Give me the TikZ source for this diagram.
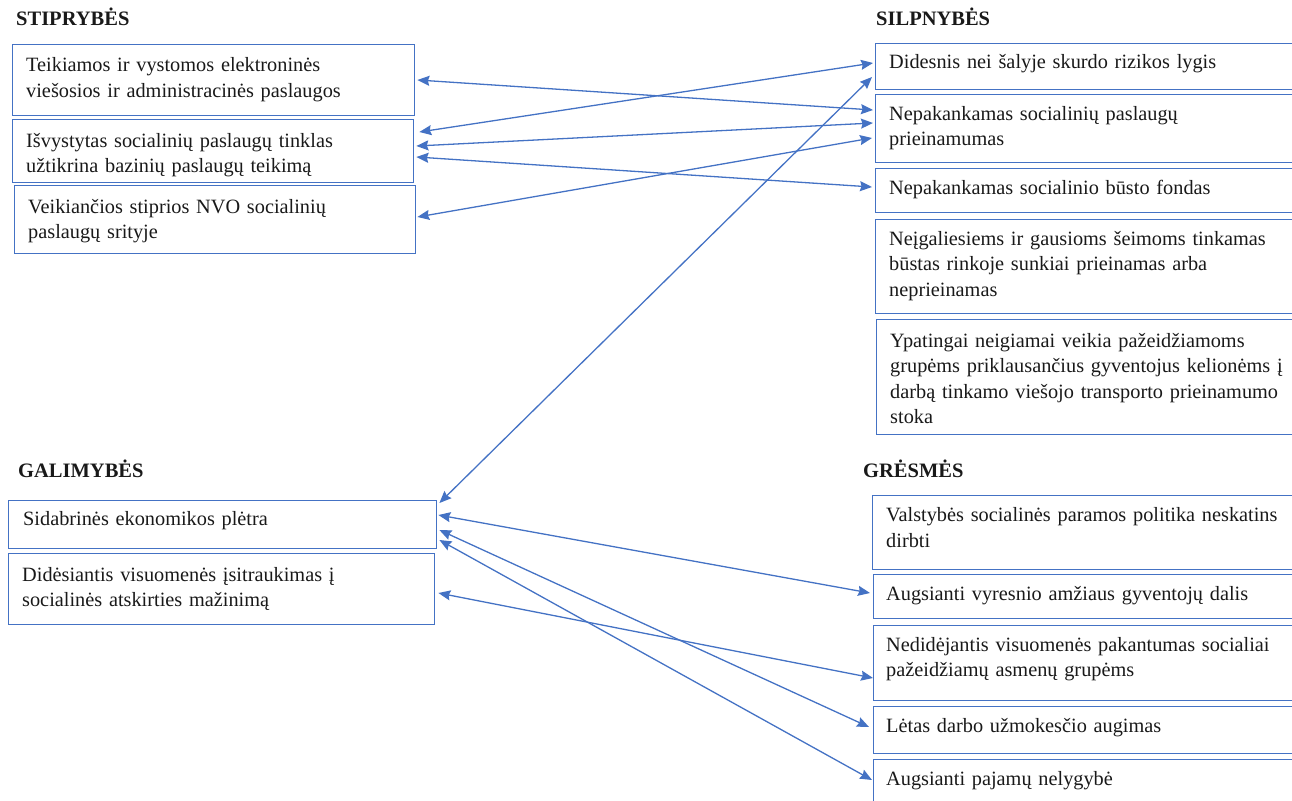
\documentclass[tikz,border=0pt]{standalone}
\usepackage{fontspec}
\setmainfont{Liberation Serif}
\usetikzlibrary{arrows.meta,calc}
\definecolor{bl}{HTML}{4472C4}
\begin{document}
\begin{tikzpicture}[x=1pt,y=-1pt,
  box/.style={draw=bl, line width=1.4pt, inner sep=0pt, anchor=north west},
  txt/.style={anchor=base west, inner sep=0pt, text width=440pt, align=left,
    font=\fontsize{20.3}{25.5}\selectfont, text=black!90},
  head/.style={anchor=base west, inner sep=0pt, font=\fontsize{20.5}{25.5}\selectfont\bfseries, text=black!90},
  tip/.tip={Stealth[length=12pt,width=10pt,inset=1.5pt]},
  link/.style={draw=bl, line width=1.3pt, tip-tip}]
\path[use as bounding box, clip] (0,0) rectangle (1292,800);

% headings
\node[head] (hS) at (16,26) {STIPRYBĖS};
\node[head] (hW) at (876,26) {SILPNYBĖS};
\node[head] (hO) at (18,477) {GALIMYBĖS};
\node[head] (hT) at (863,477) {GRĖSMĖS};

% strengths
\node[box, minimum width=402, minimum height=71] (s1) at (12,44) {};
\node[txt] (s1t) at ($(s1.north west)+(14,27.5)$) {Teikiamos ir vystomos elektroninės\\viešosios ir administracinės paslaugos};
\node[box, minimum width=401, minimum height=63] (s2) at (12,119) {};
\node[txt] (s2t) at ($(s2.north west)+(14,28)$) {Išvystytas socialinių paslaugų tinklas\\užtikrina bazinių paslaugų teikimą};
\node[box, minimum width=401, minimum height=68] (s3) at (14,185) {};
\node[txt] (s3t) at ($(s3.north west)+(14,28)$) {Veikiančios stiprios NVO socialinių\\paslaugų srityje};

% weaknesses
\node[box, minimum width=430, minimum height=46] (w1) at (875,43) {};
\node[txt] (w1t) at ($(w1.north west)+(14,25.5)$) {Didesnis nei šalyje skurdo rizikos lygis};
\node[box, minimum width=430, minimum height=68] (w2) at (875,94) {};
\node[txt] (w2t) at ($(w2.north west)+(14,26)$) {Nepakankamas socialinių paslaugų\\prieinamumas};
\node[box, minimum width=430, minimum height=44] (w3) at (875,168) {};
\node[txt] (w3t) at ($(w3.north west)+(14,26)$) {Nepakankamas socialinio būsto fondas};
\node[box, minimum width=430, minimum height=94] (w4) at (875,219) {};
\node[txt] (w4t) at ($(w4.north west)+(14,26)$) {Neįgaliesiems ir gausioms šeimoms tinkamas\\būstas rinkoje sunkiai prieinamas arba\\neprieinamas};
\node[box, minimum width=430, minimum height=115] (w5) at (876,319) {};
\node[txt] (w5t) at ($(w5.north west)+(14,28)$) {Ypatingai neigiamai veikia pažeidžiamoms\\grupėms priklausančius gyventojus kelionėms į\\darbą tinkamo viešojo transporto prieinamumo\\stoka};

% opportunities
\node[box, minimum width=428, minimum height=48] (o1) at (8,500) {};
\node[txt] (o1t) at ($(o1.north west)+(15,25)$) {Sidabrinės ekonomikos plėtra};
\node[box, minimum width=426, minimum height=71] (o2) at (8,553) {};
\node[txt] (o2t) at ($(o2.north west)+(14,28)$) {\makebox[313pt][s]{Didėsiantis visuomenės įsitraukimas į}\\socialinės atskirties mažinimą};

% threats
\node[box, minimum width=430, minimum height=74] (t1) at (872,495) {};
\node[txt] (t1t) at ($(t1.north west)+(14,26.5)$) {\makebox[390pt][s]{Valstybės socialinės paramos politika neskatins}\\dirbti};
\node[box, minimum width=430, minimum height=44] (t2) at (873,574) {};
\node[txt] (t2t) at ($(t2.north west)+(13,26)$) {\makebox[364pt][s]{Augsianti vyresnio amžiaus gyventojų dalis}};
\node[box, minimum width=430, minimum height=75] (t3) at (873,625) {};
\node[txt] (t3t) at ($(t3.north west)+(13,26)$) {\makebox[387pt][s]{Nedidėjantis visuomenės pakantumas socialiai}\\\makebox[251pt][s]{pažeidžiamų asmenų grupėms}};
\node[box, minimum width=430, minimum height=47] (t4) at (873,706) {};
\node[txt] (t4t) at ($(t4.north west)+(13,26)$) {\makebox[276pt][s]{Lėtas darbo užmokesčio augimas}};
\node[box, minimum width=430, minimum height=60] (t5) at (873,759) {};
\node[txt] (t5t) at ($(t5.north west)+(13,26)$) {Augsianti pajamų nelygybė};

% connectors
\draw[link] ($(s1.north east)+(2,36)$) -- ($(w2.north west)+(-2,16)$);
\draw[link] ($(s2.north east)+(5,13)$) -- ($(w1.north west)+(-2,20)$);
\draw[link] ($(s2.north east)+(2,27)$) -- ($(w2.north west)+(-2,29)$);
\draw[link] ($(s2.north east)+(2,38)$) -- ($(w3.north west)+(-3,19)$);
\draw[link] ($(s3.north east)+(1,32)$) -- ($(w2.north west)+(-3,44)$);
\draw[link] ($(o1.north east)+(2,3)$) -- ($(w1.north west)+(-3,34)$);
\draw[link] ($(o1.north east)+(1,15)$) -- ($(t2.north west)+(-3,19)$);
\draw[link] ($(o1.north east)+(2,30)$) -- ($(t4.north west)+(-4,21)$);
\draw[link] ($(o1.north east)+(2,40)$) -- ($(t5.north west)+(-1,21)$);
\draw[link] ($(o2.north east)+(3,40)$) -- ($(t3.north west)+(0,53)$);
\end{tikzpicture}
\end{document}
